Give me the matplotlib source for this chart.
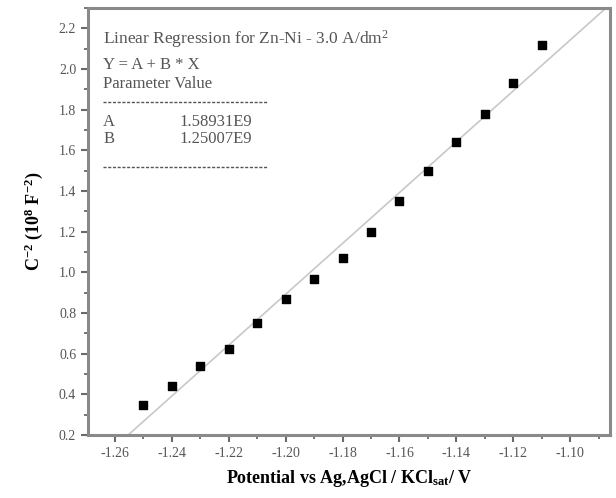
import matplotlib
matplotlib.use("Agg")
import matplotlib.pyplot as plt
import numpy as np
from matplotlib.ticker import MultipleLocator
from matplotlib.lines import Line2D

plt.rcParams['font.family'] = ['Liberation Serif', 'DejaVu Serif']
plt.rcParams['mathtext.fontset'] = 'custom'
plt.rcParams['mathtext.rm'] = 'Liberation Serif'
plt.rcParams['mathtext.it'] = 'Liberation Serif:italic'
plt.rcParams['mathtext.bf'] = 'Liberation Serif:bold'

potential = [-1.25, -1.24, -1.23, -1.22, -1.21, -1.20, -1.19, -1.18,
             -1.17, -1.16, -1.15, -1.14, -1.13, -1.12, -1.11]
inv_c2 = [0.35, 0.44, 0.54, 0.625, 0.75, 0.87, 0.965, 1.07,
          1.20, 1.35, 1.50, 1.64, 1.78, 1.93, 2.12]
fit_A = 1.58931e9
fit_B = 1.25007e9
scale = 1e8

fig = plt.figure(figsize=(6.16, 4.98), dpi=100)
ax = fig.add_axes([0.1429, 0.1265, 0.8473, 0.8575])

xlim = (-1.2695, -1.086)
ylim = (0.2, 2.3)
xf = np.linspace(xlim[0], xlim[1], 200)
yf = (fit_A + fit_B * xf) / scale
ax.plot(xf, yf, color='#c8c8c8', lw=1.2, zorder=1)
ax.scatter(potential, inv_c2, marker='s', s=36, color='black', zorder=3)

ax.set_xlim(*xlim)
ax.set_ylim(*ylim)
ax.xaxis.set_minor_locator(MultipleLocator(0.01))
ax.yaxis.set_minor_locator(MultipleLocator(0.1))
xt = np.arange(-1.26, -1.099, 0.02)
yt = np.arange(0.2, 2.21, 0.2)
ax.set_xticks(xt)
ax.set_xticklabels([f"{v:.2f}" for v in xt])
ax.set_yticks(yt)
ax.set_yticklabels([f"{v:.1f}" for v in yt])

for s in ax.spines.values():
    s.set_color('#8a8a8a')
    s.set_linewidth(2.2)
ax.tick_params(which='major', direction='out', length=5, width=1.5, color='#6a6a6a',
               labelsize=10, labelcolor='#555555')
ax.tick_params(which='minor', direction='out', length=3, width=1.3, color='#6a6a6a')

ax.set_xlabel(r'Potential vs Ag,AgCl / KCl$_{\mathbf{sat}}$/ V', fontsize=13,
              fontweight='bold', labelpad=6)
ax.set_ylabel(r'$\mathit{\mathbf{C}}^{\mathbf{-2}}$ (10$^{\mathbf{8}}$ F$^{\mathbf{-2}}$)',
              fontsize=13, fontweight='bold', labelpad=10)

tc = '#555555'
fs = 12.5
fs2 = 12
x0 = 0.029
x1 = 0.176
ax.text(x0, 0.928, r'Linear Regression for Zn-Ni - 3.0 A/dm$^2$', transform=ax.transAxes,
        fontsize=fs, color=tc, va='center')
ax.text(x0, 0.866, 'Y = A + B * X', transform=ax.transAxes, fontsize=fs2, color=tc, va='center')
ax.text(x0, 0.823, 'Parameter Value', transform=ax.transAxes, fontsize=fs2, color=tc, va='center')
ax.text(x0, 0.734, 'A', transform=ax.transAxes, fontsize=fs2, color=tc, va='center')
ax.text(x1, 0.734, '1.58931E9', transform=ax.transAxes, fontsize=fs2, color=tc, va='center')
ax.text(x0, 0.692, 'B', transform=ax.transAxes, fontsize=fs2, color=tc, va='center')
ax.text(x1, 0.692, '1.25007E9', transform=ax.transAxes, fontsize=fs2, color=tc, va='center')
for yy in (0.780, 0.628):
    ax.add_line(Line2D([x0, 0.343], [yy, yy], transform=ax.transAxes, color=tc,
                       lw=1.0, linestyle=(0, (2.2, 1.2))))

fig.savefig('out.png', dpi=100)
